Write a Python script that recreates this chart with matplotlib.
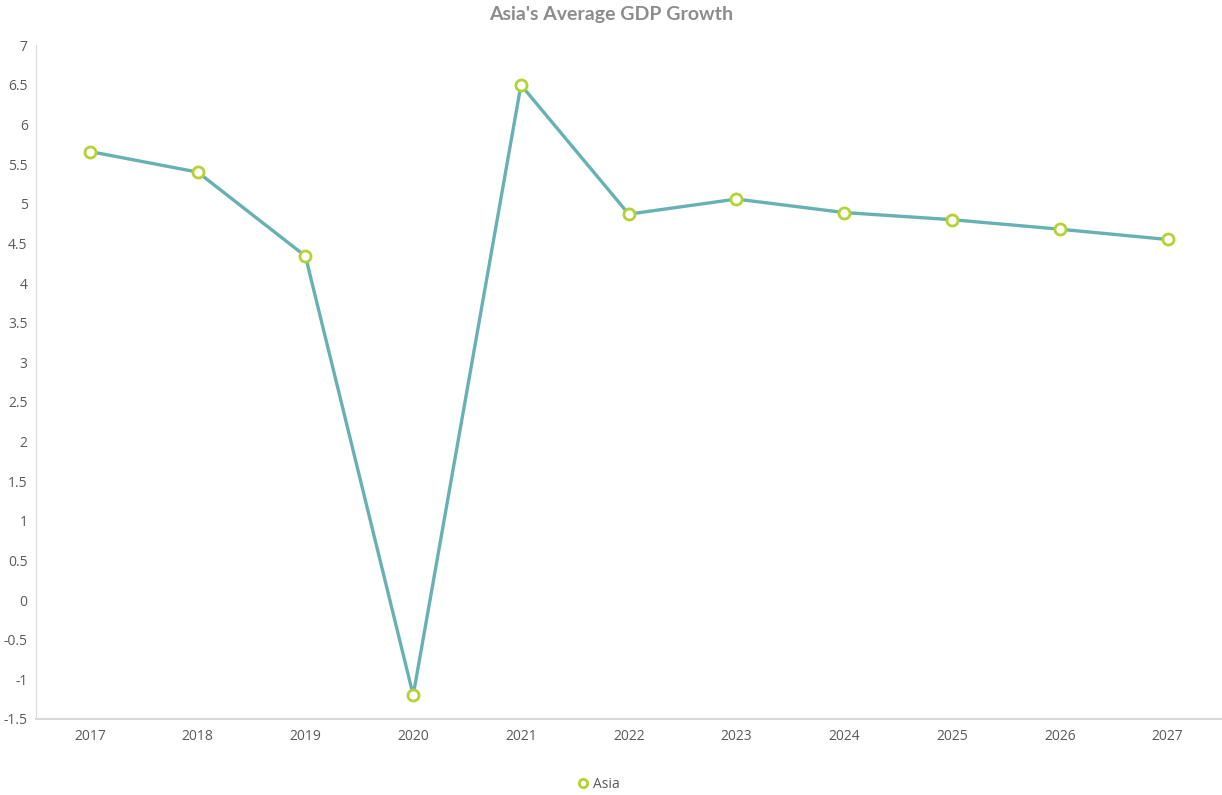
import matplotlib.pyplot as plt

# Average GDP growth, Asia (%)
years = ['2017', '2018', '2019', '2020', '2021', '2022', '2023', '2024', '2025', '2026', '2027']
growth = [5.66, 5.40, 4.34, -1.20, 6.50, 4.87, 5.06, 4.89, 4.80, 4.68, 4.55]
yticks = [-1.5, -1, -0.5, 0, 0.5, 1, 1.5, 2, 2.5, 3, 3.5, 4, 4.5, 5, 5.5, 6, 6.5, 7]

plt.rcParams['font.family'] = ['Open Sans', 'DejaVu Sans']

fig = plt.figure(figsize=(12.22, 7.95), dpi=100)
ax = fig.add_axes([0.0295, 0.0956, 0.9700, 0.8474])

x = range(len(years))
ax.plot(x, growth, color='#67b1b2', linewidth=2.4, marker='o', markersize=8,
        markerfacecolor='white', markeredgecolor='#b3d234', markeredgewidth=2,
        label='Asia', zorder=3)

ax.set_xlim(-0.5, len(years) - 0.5)
ax.set_ylim(-1.5, 7)
ax.set_xticks(list(x))
ax.set_xticklabels(years)
ax.set_yticks(yticks)
ax.set_yticklabels([f'{t:g}' for t in yticks])

for side in ['top', 'right']:
    ax.spines[side].set_visible(False)
ax.spines['left'].set_color('#d9d9d9')
ax.spines['bottom'].set_color('#d9d9d9')
ax.spines['bottom'].set_linewidth(1.5)
ax.tick_params(axis='both', length=0, labelsize=10, labelcolor='#595959')
ax.tick_params(axis='x', pad=7)
ax.tick_params(axis='y', pad=6)

fig.suptitle("Asia's Average GDP Growth", y=0.992, fontsize=14, color='#8c8c8c',
             fontweight='bold', family=['Lato', 'DejaVu Sans'])

fig.legend(loc='lower center', bbox_to_anchor=(0.49, -0.012), frameon=False,
           fontsize=10, labelcolor='#595959', handlelength=0.8, handletextpad=0.3,
           markerscale=0.75)
leg = fig.legends[0]
for h in leg.legend_handles:
    h.set_linestyle('none')

fig.savefig('out.png', dpi=100)
